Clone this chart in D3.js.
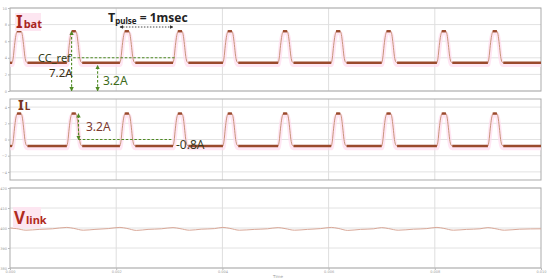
<!DOCTYPE html>
<html><head><meta charset="utf-8">
<script src="https://cdn.jsdelivr.net/npm/d3@7"></script>
<style>body{margin:0;background:#fff}svg{display:block}</style>
</head><body>
<script>
// ---- data ----
const timeTicks = [0, 2, 4, 6, 8, 10];                 // ms
const timeTickLabels = ["0.000", "0.002", "0.004", "0.006", "0.008", "0.010"];
const ibatTicks = [0, 2, 4, 6, 8, 10];
const ilTicks = [-4, -2, 0, 2, 4];
const vlinkTicks = [380, 390, 400, 410, 420];
const pulseStarts = [0.04, 1.07, 2.07, 3.07, 4.01, 5.05, 6.05, 7.0, 8.04, 9.0]; // ms
const pulseShapeDt = [0, 0.02, 0.045, 0.07, 0.09, 0.12, 0.17, 0.19, 0.215, 0.24, 0.265, 0.29];
const pulseShapeFrac = [0, 0.15, 0.55, 0.86, 0.98, 1.02, 1.0, 0.9, 0.58, 0.2, 0.03, 0];
const ibatLevels = {low: 3.4, high: 7.2, ccRef: 4.0};
const ilLevels = {low: -0.8, high: 3.2};
const vlinkT = [0,0.12,0.3,0.55,0.8, 1.07,1.2,1.38,1.6,1.85, 2.07,2.2,2.38,2.6,2.85, 3.07,3.2,3.38,3.6,3.85,
                4.01,4.14,4.32,4.6,4.85, 5.05,5.18,5.36,5.6,5.85, 6.05,6.18,6.36,6.6,6.85, 7.0,7.13,7.31,7.6,7.85,
                8.04,8.17,8.35,8.6,8.85, 9.0,9.13,9.31,9.6,10];
const vlinkV = [400.0,399.7,398.9,399.3,399.6, 400.3,399.8,398.9,399.3,399.7, 400.3,399.8,398.8,399.3,399.6, 400.2,399.7,398.9,399.4,399.7,
                400.3,399.8,398.9,399.3,399.6, 400.2,399.7,398.9,399.3,399.7, 400.3,399.8,398.8,399.3,399.6, 400.2,399.7,398.9,399.4,399.7,
                400.3,399.8,398.9,399.3,399.6, 400.2,399.7,398.9,399.4,399.6];

// ---- layout ----
const W = 550, H = 280;
const svg = d3.select("body").append("svg").attr("width", W).attr("height", H);
svg.append("rect").attr("width", W).attr("height", H).attr("fill", "#fff");

const x = d3.scaleLinear().domain([0, 10]).range([10, 541]);
const panels = [
  {top: 8, bottom: 91, domain: [0, 10], ticks: ibatTicks},
  {top: 99, bottom: 180, domain: [-5, 5], ticks: ilTicks},
  {top: 188, bottom: 268, domain: [380, 420], ticks: vlinkTicks}
];
panels.forEach(p => { p.y = d3.scaleLinear().domain(p.domain).range([p.bottom, p.top]); });

const defs = svg.append("defs");
function marker(id, color) {
  defs.append("marker").attr("id", id).attr("viewBox", "0 0 10 10").attr("refX", 9).attr("refY", 5)
    .attr("markerWidth", 4).attr("markerHeight", 4).attr("orient", "auto-start-reverse")
    .append("path").attr("d", "M0,0L10,5L0,10z").attr("fill", color);
}
marker("arrG", "#4f8a24");
marker("arrK", "#333");

// grids, frames, ticks
panels.forEach((p, i) => {
  const g = svg.append("g");
  g.selectAll(".hg").data(p.ticks).join("line")
    .attr("x1", x(0)).attr("x2", x(10)).attr("y1", d => p.y(d)).attr("y2", d => p.y(d))
    .attr("stroke", "#e2e2e2").attr("stroke-width", 1);
  g.selectAll(".vg").data(timeTicks.slice(1, -1)).join("line")
    .attr("x1", d => x(d)).attr("x2", d => x(d)).attr("y1", p.top).attr("y2", p.bottom)
    .attr("stroke", "#dedede").attr("stroke-width", 1);
  g.append("rect").attr("x", x(0)).attr("y", p.top).attr("width", x(10) - x(0)).attr("height", p.bottom - p.top)
    .attr("fill", "none").attr("stroke", "#ababab").attr("stroke-width", 1);
  const yAxis = d3.axisLeft(p.y).tickValues(p.ticks).tickSize(2).tickPadding(1);
  const ax = svg.append("g").attr("transform", `translate(${x(0)},0)`).call(yAxis);
  ax.select(".domain").remove();
  ax.selectAll("line").attr("stroke", "#bbb");
  ax.selectAll("text").attr("font-size", 3.5).attr("fill", "#999").attr("font-family", "DejaVu Sans");
});

const xAxis = d3.axisBottom(x).tickValues(timeTicks).tickFormat((d, i) => timeTickLabels[i]).tickSize(2).tickPadding(1);
const xa = svg.append("g").attr("transform", `translate(0,${panels[2].bottom})`).call(xAxis);
xa.select(".domain").remove();
xa.selectAll("line").attr("stroke", "#bbb");
xa.selectAll("text").attr("font-size", 3.5).attr("fill", "#999").attr("font-family", "DejaVu Sans");
svg.append("text").attr("x", 278).attr("y", 277.5).attr("text-anchor", "middle")
  .attr("font-size", 4).attr("fill", "#999").attr("font-family", "DejaVu Sans").text("Time");

// ---- pulse traces ----
function pulsePoints(levels) {
  const pts = [[0, levels.low]];
  pulseStarts.forEach(t0 => {
    pulseShapeDt.forEach((dt, k) => {
      pts.push([t0 + dt, levels.low + (levels.high - levels.low) * pulseShapeFrac[k]]);
    });
  });
  pts.push([10, levels.low]);
  return pts;
}
function drawTrace(p, levels) {
  const pts = pulsePoints(levels);
  const line = d3.line().x(d => x(d[0])).y(d => p.y(d[1])).curve(d3.curveMonotoneX);
  svg.append("path").attr("d", line(pts)).attr("fill", "none").attr("stroke", "#ffdcee")
    .attr("stroke-width", 4.5).attr("transform", "translate(0,2)").attr("opacity", 0.7);
  svg.append("path").attr("d", line(pts)).attr("fill", "none").attr("stroke", "#c8947a").attr("stroke-width", 1);
  // thick flat portions (ripple band)
  const flats = [];
  let prevEnd = 0;
  pulseStarts.forEach(t0 => {
    flats.push([prevEnd, t0, levels.low]);
    flats.push([t0 + pulseShapeDt[4], t0 + pulseShapeDt[6], levels.high]);
    prevEnd = t0 + pulseShapeDt[pulseShapeDt.length - 1];
  });
  flats.push([prevEnd, 10, levels.low]);
  svg.selectAll(null).data(flats).join("line")
    .attr("x1", d => x(d[0])).attr("x2", d => x(d[1]))
    .attr("y1", d => p.y(d[2])).attr("y2", d => p.y(d[2]))
    .attr("stroke", "#9a4a2c").attr("stroke-width", 2.4);
}
drawTrace(panels[0], ibatLevels);
drawTrace(panels[1], ilLevels);

// Vlink
const vl = d3.line().x((d, i) => x(vlinkT[i])).y(d => panels[2].y(d)).curve(d3.curveMonotoneX);
svg.append("path").attr("d", vl(vlinkV)).attr("fill", "none").attr("stroke", "#d9a898").attr("stroke-width", 1);

// ---- labels ----
const FF = "'Noto Sans', 'Open Sans', sans-serif";
function label(xp, yp, main, sub, size, subSize, color, bg) {
  if (bg) svg.append("rect").attr("x", bg[0]).attr("y", bg[1]).attr("width", bg[2]).attr("height", bg[3]).attr("fill", "#fde6f1");
  const t = svg.append("text").attr("x", xp).attr("y", yp).attr("font-family", FF).attr("font-weight", "bold").attr("fill", color);
  t.append("tspan").attr("font-size", size).text(main);
  t.append("tspan").attr("font-size", subSize).attr("dx", 1).text(sub);
}
label(16, 28, "I", "bat", 17, 11, "#a8261e", [15, 13, 26, 18]);
label(18, 110, "I", "L", 15, 10, "#7a3320", null);
label(14, 224, "V", "link", 17, 11, "#b02a20", [13, 207, 28, 21]);

// T_pulse
const tp = svg.append("text").attr("x", 108).attr("y", 22).attr("font-family", FF).attr("font-weight", "bold").attr("fill", "#222");
tp.append("tspan").attr("font-size", 12.5).text("T");
tp.append("tspan").attr("font-size", 8).attr("dy", 1.5).text("pulse");
tp.append("tspan").attr("font-size", 12).attr("dy", -1.5).text(" = 1msec");
svg.append("line").attr("x1", x(pulseStarts[2])).attr("x2", x(pulseStarts[3])).attr("y1", 27).attr("y2", 27)
  .attr("stroke", "#333").attr("stroke-width", 0.9).attr("stroke-dasharray", "1.5,1.5")
  .attr("marker-start", "url(#arrK)").attr("marker-end", "url(#arrK)");

// green annotations panel 1
const G = "#4f8a24";
const y1 = panels[0].y, y2 = panels[1].y;
svg.append("line").attr("x1", x(1.19)).attr("x2", x(3.1)).attr("y1", y1(ibatLevels.ccRef)).attr("y2", y1(ibatLevels.ccRef))
  .attr("stroke", G).attr("stroke-width", 1.1).attr("stroke-dasharray", "2.5,1.8");
svg.append("line").attr("x1", x(1.16)).attr("x2", x(1.16)).attr("y1", y1(0)).attr("y2", y1(ibatLevels.high))
  .attr("stroke", G).attr("stroke-width", 1.1).attr("stroke-dasharray", "2.5,1.8")
  .attr("marker-start", "url(#arrG)").attr("marker-end", "url(#arrG)");
svg.append("line").attr("x1", x(1.65)).attr("x2", x(1.65)).attr("y1", y1(0)).attr("y2", y1(3.1))
  .attr("stroke", G).attr("stroke-width", 1.1).attr("stroke-dasharray", "2.5,1.8")
  .attr("marker-start", "url(#arrG)").attr("marker-end", "url(#arrG)");
function txt(xp, yp, s, color, size) {
  svg.append("text").attr("x", xp).attr("y", yp).attr("font-family", FF).attr("font-size", size || 12)
    .attr("fill", color).text(s);
}
txt(38, 61.5, "CC_ref", "#2f3a14", 11);
txt(49, 77, "7.2A", "#3a2e14", 11.5);
txt(103, 85, "3.2A", "#3d6a1a");

// panel 2 annotations
svg.append("line").attr("x1", x(1.29)).attr("x2", x(3.07)).attr("y1", y2(0)).attr("y2", y2(0))
  .attr("stroke", G).attr("stroke-width", 1.1).attr("stroke-dasharray", "2.5,1.8");
svg.append("line").attr("x1", x(1.29)).attr("x2", x(1.29)).attr("y1", y2(0)).attr("y2", y2(ilLevels.high))
  .attr("stroke", G).attr("stroke-width", 1.1).attr("stroke-dasharray", "2.5,1.8")
  .attr("marker-start", "url(#arrG)").attr("marker-end", "url(#arrG)");
txt(86, 131, "3.2A", "#7d3a30");
txt(176, 149, "-0.8A", "#3a3a22");
</script>
</body></html>
